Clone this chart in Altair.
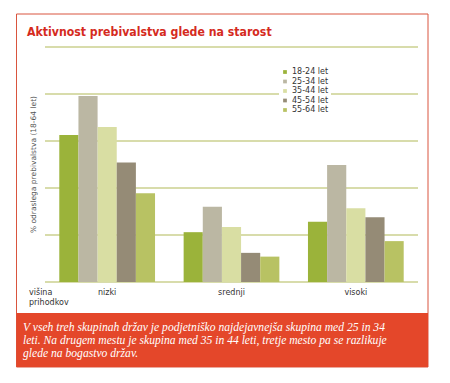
import altair as alt
import pandas as pd

groups = ["nizki", "srednji", "visoki"]
ages = ["18-24 let", "25-34 let", "35-44 let", "45-54 let", "55-64 let"]
nizki = [3.13, 3.96, 3.30, 2.54, 1.89]
srednji = [1.06, 1.60, 1.17, 0.62, 0.54]
visoki = [1.28, 2.49, 1.57, 1.38, 0.87]
colors = ["#9bb33a", "#bbb7a3", "#d9dea3", "#958b76", "#b8c263"]
grid_values = [0, 1, 2, 3, 4, 5]

title_text = "Aktivnost prebivalstva glede na starost"
y_title = "% odraslega prebivalstva (18-64 let)"
x_title = ["višina", "prihodkov"]
note = [
    "V vseh treh skupinah držav je podjetniško najdejavnejša skupina med 25 in 34",
    "leti. Na drugem mestu je skupina med 35 in 44 leti, tretje mesto pa se razlikuje",
    "glede na bogastvo držav.",
]

rows = []
for g, vals in zip(groups, [nizki, srednji, visoki]):
    for a, v in zip(ages, vals):
        rows.append({"skupina": g, "starost": a, "vrednost": v})
df = pd.DataFrame(rows)

W, H = 373, 235
RED = "#e4472a"
yscale = alt.Scale(domain=[0, 5], nice=False)

frame = alt.Chart(pd.DataFrame({"k": [0]})).mark_rect(
    fillOpacity=0, stroke="#d9553e", strokeWidth=1
).encode(x=alt.value(-28.5), x2=alt.value(383), y=alt.value(-33), y2=alt.value(320))

redbox = alt.Chart(pd.DataFrame({"k": [0]})).mark_rect(fill=RED).encode(
    x=alt.value(-28.5), x2=alt.value(383), y=alt.value(266), y2=alt.value(320)
)

title = alt.Chart(pd.DataFrame({"t": [title_text]})).mark_text(
    font="Liberation Sans Narrow, DejaVu Sans Condensed, Liberation Sans, sans-serif",
    fontWeight="bold", fontSize=12.2, color="#d52b1e",
    align="left", baseline="alphabetic"
).encode(text="t:N", x=alt.value(-18), y=alt.value(-11.5))

note_txt = alt.Chart(pd.DataFrame({"t": [note]})).mark_text(
    font="Liberation Serif", fontStyle="italic", fontSize=11.6, color="white",
    align="left", baseline="middle", lineHeight=13.2
).encode(text="t:N", x=alt.value(-22), y=alt.value(281))

xt = alt.Chart(pd.DataFrame({"t": [x_title]})).mark_text(
    font="DejaVu Sans", fontSize=8, color="#333333", align="left", baseline="middle",
    lineHeight=9.5
).encode(text="t:N", x=alt.value(-16), y=alt.value(246))

grid = alt.Chart(pd.DataFrame({"g": grid_values})).mark_rule(
    color="#d8dcab", strokeWidth=2
).encode(
    y=alt.Y("g:Q", scale=yscale,
            axis=alt.Axis(title=y_title, labels=False, ticks=False, domain=False, grid=False,
                          titleFont="DejaVu Sans", titleFontSize=7.5, titleFontWeight="normal",
                          titleColor="#555555", titleAngle=270, titleX=-12, titleY=117,
                          titleAlign="center", titleBaseline="middle")),
    x=alt.value(0), x2=alt.value(W),
)

bars = alt.Chart(df).mark_bar().encode(
    x=alt.X("skupina:N", sort=groups, title=None,
            scale=alt.Scale(paddingInner=0.23, paddingOuter=0.115),
            axis=alt.Axis(labelAngle=0, domain=False, ticks=False, labelPadding=6,
                          labelFont="DejaVu Sans", labelFontSize=8, labelColor="#333333",
                          grid=False)),
    xOffset=alt.XOffset("starost:N", sort=ages, scale=alt.Scale(paddingInner=0, paddingOuter=0)),
    y=alt.Y("vrednost:Q", scale=yscale, title=y_title),
    color=alt.Color("starost:N", sort=ages,
                    scale=alt.Scale(domain=ages, range=colors),
                    legend=alt.Legend(title=None, orient="none", legendX=234, legendY=19,
                                      symbolType="square", symbolSize=14, symbolStrokeWidth=0,
                                      labelFont="DejaVu Sans", labelFontSize=8,
                                      labelColor="#333333", rowPadding=1.5, labelOffset=3,
                                      fillColor="white", padding=2)),
)

chart = alt.layer(frame, redbox, title, note_txt, xt, grid, bars).properties(
    width=W, height=H,
    autosize=alt.AutoSizeParams(type="none"),
    padding={"left": 37, "top": 39, "right": 24, "bottom": 93},
    background="white",
).configure_view(strokeWidth=0)

chart.save("out.html", embed_options={"renderer": "svg", "actions": False})
